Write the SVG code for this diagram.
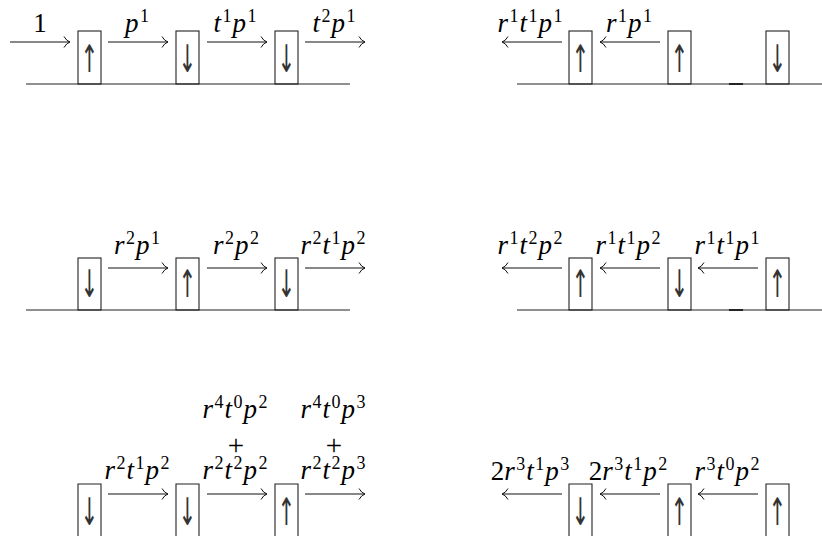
<svg xmlns="http://www.w3.org/2000/svg" width="822" height="536" viewBox="0 0 822 536">
<defs>
<marker id="ah" markerUnits="userSpaceOnUse" markerWidth="12" markerHeight="14" refX="10" refY="7" orient="auto">
<path d="M4,1.5 Q6.5,6 10,7 Q6.5,8 4,12.5" fill="none" stroke="#111" stroke-width="1"/>
</marker>
</defs>
<style>
.ln{fill:none;stroke:#222;stroke-width:1.1}
.dk{fill:none;stroke:#000;stroke-width:1.6}
.ar{fill:none;stroke:#111;stroke-width:1;marker-end:url(#ah)}
.m{font-family:"Liberation Serif",serif;font-style:italic;font-size:27px;fill:#000;text-anchor:middle}
.s{font-style:normal;font-size:18px}
.u{font-style:normal}
.pl{font-style:normal;font-size:29px}
.g{font-family:"DejaVu Sans",sans-serif;font-size:38px;text-anchor:middle;fill:#333}
</style>
<rect width="822" height="536" fill="#fff"/>

<g id="connectors">
<path class="ln" d="M26,84 H350 M517,84 H822 M26,310 H350 M517,310 H822"/>
<path class="dk" d="M729,84 H743 M729,310 H743"/>
<path class="ar" d="M10,42 H70"/>
<path class="ar" d="M108,42 H168"/>
<path class="ar" d="M207,42 H267"/>
<path class="ar" d="M305,42 H365"/>
<path class="ar" d="M562,42 H502"/>
<path class="ar" d="M660,42 H600"/>
<path class="ar" d="M108,268 H168"/>
<path class="ar" d="M207,268 H267"/>
<path class="ar" d="M305,268 H365"/>
<path class="ar" d="M562,268 H502"/>
<path class="ar" d="M660,268 H600"/>
<path class="ar" d="M758,268 H698"/>
<path class="ar" d="M108,494 H168"/>
<path class="ar" d="M207,494 H267"/>
<path class="ar" d="M305,494 H365"/>
<path class="ar" d="M562,494 H502"/>
<path class="ar" d="M660,494 H600"/>
<path class="ar" d="M758,494 H698"/>
</g>

<!-- Row 1 left -->
<g id="r1l-b1"><rect class="ln" x="78" y="31" width="23" height="53" fill="#fff"/><text class="g" transform="translate(89.5,72) scale(0.55,1)">↑</text></g>
<g id="r1l-b2"><rect class="ln" x="176" y="31" width="23" height="53" fill="#fff"/><text class="g" transform="translate(187.5,72) scale(0.55,1)">↓</text></g>
<g id="r1l-b3"><rect class="ln" x="275" y="31" width="23" height="53" fill="#fff"/><text class="g" transform="translate(286.5,72) scale(0.55,1)">↓</text></g>
<g id="r1l-l0"><text class="m" x="40" y="32"><tspan class="u">1</tspan></text></g>
<g id="r1l-l1"><text class="m" x="137" y="32">p<tspan class="s" dx="1.5" dy="-10">1</tspan></text></g>
<g id="r1l-l2"><text class="m" x="235" y="32">t<tspan class="s" dx="1.5" dy="-10">1</tspan><tspan dx="1" dy="10">p</tspan><tspan class="s" dx="1.5" dy="-10">1</tspan></text></g>
<g id="r1l-l3"><text class="m" x="334" y="32">t<tspan class="s" dx="1.5" dy="-10">2</tspan><tspan dx="1" dy="10">p</tspan><tspan class="s" dx="1.5" dy="-10">1</tspan></text></g>

<!-- Row 1 right -->
<g id="r1r-b1"><rect class="ln" x="569" y="31" width="23" height="53" fill="#fff"/><text class="g" transform="translate(580.5,72) scale(0.55,1)">↑</text></g>
<g id="r1r-b2"><rect class="ln" x="668" y="31" width="23" height="53" fill="#fff"/><text class="g" transform="translate(679.5,72) scale(0.55,1)">↑</text></g>
<g id="r1r-b3"><rect class="ln" x="766" y="31" width="23" height="53" fill="#fff"/><text class="g" transform="translate(777.5,72) scale(0.55,1)">↓</text></g>
<g id="r1r-l1"><text class="m" x="530" y="32">r<tspan class="s" dx="1.5" dy="-10">1</tspan><tspan dx="1" dy="10">t</tspan><tspan class="s" dx="1.5" dy="-10">1</tspan><tspan dx="1" dy="10">p</tspan><tspan class="s" dx="1.5" dy="-10">1</tspan></text></g>
<g id="r1r-l2"><text class="m" x="629" y="32">r<tspan class="s" dx="1.5" dy="-10">1</tspan><tspan dx="1" dy="10">p</tspan><tspan class="s" dx="1.5" dy="-10">1</tspan></text></g>

<!-- Row 2 left -->
<g id="r2l-b1"><rect class="ln" x="78" y="258" width="23" height="52" fill="#fff"/><text class="g" transform="translate(89.5,297) scale(0.55,1)">↓</text></g>
<g id="r2l-b2"><rect class="ln" x="176" y="258" width="23" height="52" fill="#fff"/><text class="g" transform="translate(187.5,297) scale(0.55,1)">↑</text></g>
<g id="r2l-b3"><rect class="ln" x="275" y="258" width="23" height="52" fill="#fff"/><text class="g" transform="translate(286.5,297) scale(0.55,1)">↓</text></g>
<g id="r2l-l1"><text class="m" x="137" y="254">r<tspan class="s" dx="1.5" dy="-10">2</tspan><tspan dx="1" dy="10">p</tspan><tspan class="s" dx="1.5" dy="-10">1</tspan></text></g>
<g id="r2l-l2"><text class="m" x="236" y="254">r<tspan class="s" dx="1.5" dy="-10">2</tspan><tspan dx="1" dy="10">p</tspan><tspan class="s" dx="1.5" dy="-10">2</tspan></text></g>
<g id="r2l-l3"><text class="m" x="333" y="254">r<tspan class="s" dx="1.5" dy="-10">2</tspan><tspan dx="1" dy="10">t</tspan><tspan class="s" dx="1.5" dy="-10">1</tspan><tspan dx="1" dy="10">p</tspan><tspan class="s" dx="1.5" dy="-10">2</tspan></text></g>

<!-- Row 2 right -->
<g id="r2r-b1"><rect class="ln" x="569" y="258" width="23" height="52" fill="#fff"/><text class="g" transform="translate(580.5,297) scale(0.55,1)">↑</text></g>
<g id="r2r-b2"><rect class="ln" x="668" y="258" width="23" height="52" fill="#fff"/><text class="g" transform="translate(679.5,297) scale(0.55,1)">↓</text></g>
<g id="r2r-b3"><rect class="ln" x="766" y="258" width="23" height="52" fill="#fff"/><text class="g" transform="translate(777.5,297) scale(0.55,1)">↑</text></g>
<g id="r2r-l1"><text class="m" x="530" y="254">r<tspan class="s" dx="1.5" dy="-10">1</tspan><tspan dx="1" dy="10">t</tspan><tspan class="s" dx="1.5" dy="-10">2</tspan><tspan dx="1" dy="10">p</tspan><tspan class="s" dx="1.5" dy="-10">2</tspan></text></g>
<g id="r2r-l2"><text class="m" x="628" y="254">r<tspan class="s" dx="1.5" dy="-10">1</tspan><tspan dx="1" dy="10">t</tspan><tspan class="s" dx="1.5" dy="-10">1</tspan><tspan dx="1" dy="10">p</tspan><tspan class="s" dx="1.5" dy="-10">2</tspan></text></g>
<g id="r2r-l3"><text class="m" x="727" y="254">r<tspan class="s" dx="1.5" dy="-10">1</tspan><tspan dx="1" dy="10">t</tspan><tspan class="s" dx="1.5" dy="-10">1</tspan><tspan dx="1" dy="10">p</tspan><tspan class="s" dx="1.5" dy="-10">1</tspan></text></g>

<!-- Row 3 left -->
<g id="r3l-b1"><path class="ln" d="M78,540 V484 H101 V540"/><text class="g" transform="translate(89.5,525) scale(0.55,1)">↓</text></g>
<g id="r3l-b2"><path class="ln" d="M176,540 V484 H199 V540"/><text class="g" transform="translate(187.5,525) scale(0.55,1)">↓</text></g>
<g id="r3l-b3"><path class="ln" d="M275,540 V484 H298 V540"/><text class="g" transform="translate(286.5,525) scale(0.55,1)">↑</text></g>
<g id="r3l-l1"><text class="m" x="137" y="479">r<tspan class="s" dx="1.5" dy="-10">2</tspan><tspan dx="1" dy="10">t</tspan><tspan class="s" dx="1.5" dy="-10">1</tspan><tspan dx="1" dy="10">p</tspan><tspan class="s" dx="1.5" dy="-10">2</tspan></text></g>
<g id="r3l-l2"><text class="m" x="235" y="418">r<tspan class="s" dx="1.5" dy="-10">4</tspan><tspan dx="1" dy="10">t</tspan><tspan class="s" dx="1.5" dy="-10">0</tspan><tspan dx="1" dy="10">p</tspan><tspan class="s" dx="1.5" dy="-10">2</tspan><tspan class="pl" x="236" y="455">+</tspan><tspan x="235" y="479">r</tspan><tspan class="s" dx="1.5" dy="-10">2</tspan><tspan dx="1" dy="10">t</tspan><tspan class="s" dx="1.5" dy="-10">2</tspan><tspan dx="1" dy="10">p</tspan><tspan class="s" dx="1.5" dy="-10">2</tspan></text></g>
<g id="r3l-l3"><text class="m" x="333" y="418">r<tspan class="s" dx="1.5" dy="-10">4</tspan><tspan dx="1" dy="10">t</tspan><tspan class="s" dx="1.5" dy="-10">0</tspan><tspan dx="1" dy="10">p</tspan><tspan class="s" dx="1.5" dy="-10">3</tspan><tspan class="pl" x="334" y="455">+</tspan><tspan x="333" y="479">r</tspan><tspan class="s" dx="1.5" dy="-10">2</tspan><tspan dx="1" dy="10">t</tspan><tspan class="s" dx="1.5" dy="-10">2</tspan><tspan dx="1" dy="10">p</tspan><tspan class="s" dx="1.5" dy="-10">3</tspan></text></g>

<!-- Row 3 right -->
<g id="r3r-b1"><path class="ln" d="M569,540 V484 H592 V540"/><text class="g" transform="translate(580.5,525) scale(0.55,1)">↓</text></g>
<g id="r3r-b2"><path class="ln" d="M668,540 V484 H691 V540"/><text class="g" transform="translate(679.5,525) scale(0.55,1)">↑</text></g>
<g id="r3r-b3"><path class="ln" d="M766,540 V484 H789 V540"/><text class="g" transform="translate(777.5,525) scale(0.55,1)">↑</text></g>
<g id="r3r-l1"><text class="m" x="530" y="480"><tspan class="u">2</tspan>r<tspan class="s" dx="1.5" dy="-10">3</tspan><tspan dx="1" dy="10">t</tspan><tspan class="s" dx="1.5" dy="-10">1</tspan><tspan dx="1" dy="10">p</tspan><tspan class="s" dx="1.5" dy="-10">3</tspan></text></g>
<g id="r3r-l2"><text class="m" x="628" y="480"><tspan class="u">2</tspan>r<tspan class="s" dx="1.5" dy="-10">3</tspan><tspan dx="1" dy="10">t</tspan><tspan class="s" dx="1.5" dy="-10">1</tspan><tspan dx="1" dy="10">p</tspan><tspan class="s" dx="1.5" dy="-10">2</tspan></text></g>
<g id="r3r-l3"><text class="m" x="727" y="480">r<tspan class="s" dx="1.5" dy="-10">3</tspan><tspan dx="1" dy="10">t</tspan><tspan class="s" dx="1.5" dy="-10">0</tspan><tspan dx="1" dy="10">p</tspan><tspan class="s" dx="1.5" dy="-10">2</tspan></text></g>
</svg>
